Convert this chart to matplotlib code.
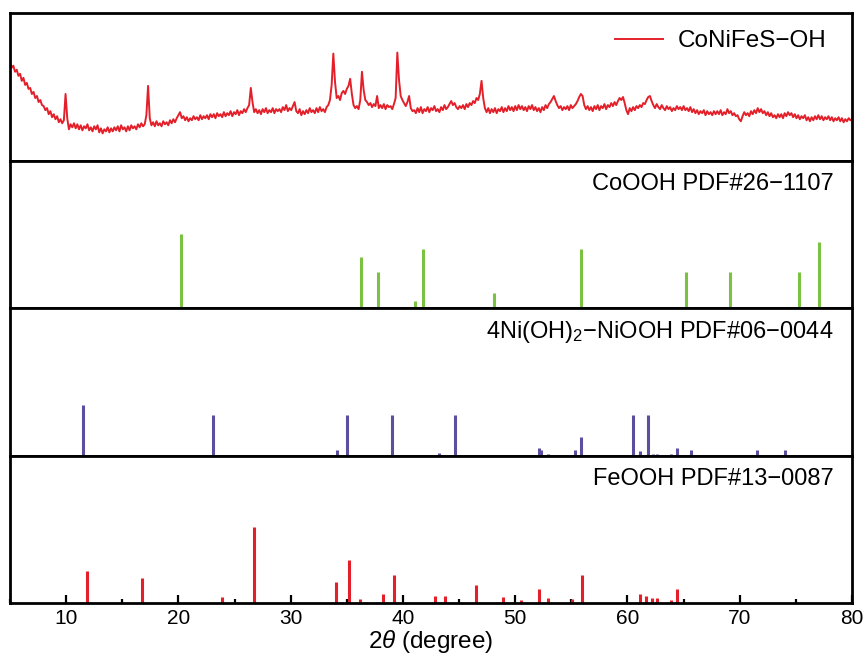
import matplotlib
matplotlib.use("Agg")
import matplotlib.pyplot as plt
import numpy as np
from matplotlib.ticker import MultipleLocator

plt.rcParams['font.family'] = ['Liberation Sans', 'DejaVu Sans']
plt.rcParams['mathtext.fontset'] = 'custom'
plt.rcParams['mathtext.rm'] = 'Liberation Sans'
plt.rcParams['mathtext.it'] = 'Liberation Sans:italic'

# measured pattern of the sample: scan from 5 deg, 0.15 deg per step (a.u.)
scan_start = 5.0
scan_step = 0.15
counts = [
    97, 92, 94, 88, 90, 84, 86, 79, 82, 75, 77, 71, 72, 66, 68, 62, 64, 58, 60, 55,   # 5.00
    54, 50, 52, 46, 49, 43, 46, 41, 44, 38, 41, 37, 40, 66, 42, 31, 36, 33, 37, 32,   # 8.00
    36, 31, 35, 30, 34, 32, 36, 30, 33, 29, 34, 31, 35, 28, 32, 27, 31, 29, 33, 28,   # 11.00
    32, 29, 33, 30, 34, 29, 35, 31, 33, 29, 34, 30, 35, 32, 34, 31, 36, 33, 37, 34,   # 14.00
    36, 45, 74, 42, 35, 38, 34, 39, 35, 37, 34, 39, 36, 38, 35, 40, 37, 41, 38, 42,   # 17.00
    45, 48, 42, 44, 40, 43, 39, 42, 40, 44, 41, 43, 40, 45, 41, 44, 42, 45, 41, 46,   # 20.00
    43, 46, 42, 47, 44, 46, 43, 48, 44, 47, 45, 49, 44, 48, 46, 50, 45, 49, 47, 51,   # 23.00
    48, 52, 55, 72, 58, 48, 51, 47, 50, 46, 51, 48, 52, 47, 50, 48, 52, 47, 51, 49,   # 26.00
    51, 48, 53, 50, 55, 49, 52, 50, 54, 58, 49, 47, 51, 45, 49, 46, 50, 47, 52, 48,   # 29.00
    50, 47, 52, 48, 53, 49, 51, 48, 53, 55, 60, 75, 106, 78, 62, 64, 60, 67, 69, 66,  # 32.00
    71, 74, 81, 66, 55, 52, 54, 51, 60, 88, 70, 60, 58, 55, 57, 53, 56, 54, 64, 52,   # 35.00
    55, 52, 56, 51, 55, 53, 54, 51, 56, 62, 107, 80, 64, 60, 57, 54, 58, 64, 52, 49,  # 38.00
    50, 47, 52, 48, 53, 47, 51, 49, 53, 48, 52, 50, 54, 49, 51, 48, 53, 50, 55, 51,   # 41.00
    53, 56, 59, 55, 57, 53, 51, 54, 52, 55, 51, 56, 53, 57, 55, 59, 57, 62, 60, 66,   # 44.00
    79, 62, 52, 48, 52, 47, 51, 48, 52, 47, 51, 49, 53, 48, 52, 49, 54, 50, 53, 49,   # 47.00
    54, 50, 55, 51, 54, 50, 53, 49, 54, 51, 55, 50, 53, 49, 52, 48, 53, 50, 55, 52,   # 50.00
    56, 58, 61, 64, 59, 55, 52, 54, 50, 53, 51, 54, 50, 55, 52, 54, 56, 59, 63, 66,   # 53.00
    64, 55, 51, 54, 50, 53, 49, 54, 51, 55, 50, 54, 52, 56, 51, 55, 53, 57, 54, 58,   # 56.00
    55, 59, 62, 60, 63, 57, 50, 46, 52, 49, 53, 50, 54, 52, 55, 53, 57, 56, 60, 63,   # 59.00
    64, 59, 55, 52, 56, 53, 51, 55, 52, 50, 54, 51, 53, 49, 52, 50, 54, 51, 53, 50,   # 62.00
    54, 50, 52, 49, 53, 48, 51, 47, 50, 46, 49, 47, 50, 45, 49, 46, 48, 45, 49, 46,   # 65.00
    49, 46, 50, 45, 48, 46, 51, 47, 49, 45, 47, 44, 45, 41, 39, 44, 48, 45, 47, 44,   # 68.00
    49, 46, 50, 47, 52, 48, 51, 47, 49, 45, 48, 44, 47, 43, 45, 42, 46, 43, 46, 42,   # 71.00
    47, 44, 48, 45, 47, 43, 46, 42, 45, 41, 44, 42, 45, 40, 43, 39, 43, 40, 44, 41,   # 74.00
    45, 41, 44, 40, 43, 41, 44, 40, 43, 39, 42, 40, 43, 39, 42, 38, 41, 39, 42, 40,   # 77.00
    41,                                                                               # 80.00
]
two_theta = scan_start + scan_step * np.arange(len(counts))

# reference cards (position, relative height)
coooh_pos = [20.2, 36.3, 37.8, 41.1, 41.8, 48.1, 55.9, 65.2, 69.1, 75.3, 77.1]
coooh_int = [74, 51, 36, 7, 59, 15, 59, 36, 36, 36, 66]

ni_pos = [11.5, 23.1, 34.1, 35.0, 39.0, 43.2, 44.6, 52.1, 52.3, 52.9, 55.3, 55.9,
          60.5, 61.1, 61.8, 62.3, 62.6, 63.9, 64.4, 65.7, 71.5, 74.0]
ni_int = [50, 40, 6, 40, 40, 3, 40, 8, 6, 2, 6, 18, 40, 5, 40, 2, 2, 1.5, 8, 6, 6, 6]

fe_pos = [11.9, 16.8, 23.9, 26.7, 34.0, 35.2, 36.2, 38.2, 39.2, 42.9, 43.75, 46.5,
          48.9, 50.5, 52.1, 52.9, 55.1, 55.95, 61.1, 61.65, 62.2, 62.6, 63.85, 64.4]
fe_int = [32, 25, 6, 76, 21, 43, 4, 9, 28, 7, 7, 18, 6, 3, 14, 5, 4, 28, 9, 7, 5, 5, 3, 14]

red = '#e3202a'
green = '#7cc242'
purple = '#5b4e9f'

fig = plt.figure(figsize=(8.68, 6.59), dpi=100)
axs = fig.subplots(4, 1, sharex=True, gridspec_kw={'hspace': 0})
fig.subplots_adjust(left=0.0115, right=0.9816, top=0.980, bottom=0.085)

axs[0].plot(two_theta, counts, color=red, lw=1.4, label='CoNiFeS\u2212OH')
axs[0].set_ylim(0, 146)
axs[0].legend(loc='upper right', frameon=False, fontsize=17.5, handlelength=2.0,
              handletextpad=0.6, borderaxespad=0.3, bbox_to_anchor=(0.99, 1.0))

sticks = [(coooh_pos, coooh_int, green, 'CoOOH PDF#26\u22121107'),
          (ni_pos, ni_int, purple, '4Ni(OH)$_2$\u2212NiOOH PDF#06\u22120044'),
          (fe_pos, fe_int, red, 'FeOOH PDF#13\u22120087')]
for ax, (pos, inten, col, lab) in zip(axs[1:], sticks):
    ax.vlines(pos, 0, inten, color=col, lw=2.2)
    ax.set_ylim(0, 147)
    ax.text(0.978, 0.84, lab, transform=ax.transAxes, ha='right', va='center', fontsize=17)

for ax in axs:
    ax.set_yticks([])
    for s in ax.spines.values():
        s.set_linewidth(2)
    ax.tick_params(axis='x', which='both', direction='in', top=False, bottom=False, labelbottom=False)

axs[-1].set_xlim(5, 80)
axs[-1].xaxis.set_major_locator(MultipleLocator(10))
axs[-1].xaxis.set_minor_locator(MultipleLocator(5))
axs[-1].tick_params(axis='x', which='major', bottom=True, labelbottom=True, length=6, width=1.6,
                    labelsize=15, pad=4)
axs[-1].tick_params(axis='x', which='minor', bottom=True, length=3, width=1.6)
axs[-1].set_xlabel('2$\\it{\\theta}$ (degree)', fontsize=17.5, labelpad=0)

fig.savefig('out.png', dpi=100)
